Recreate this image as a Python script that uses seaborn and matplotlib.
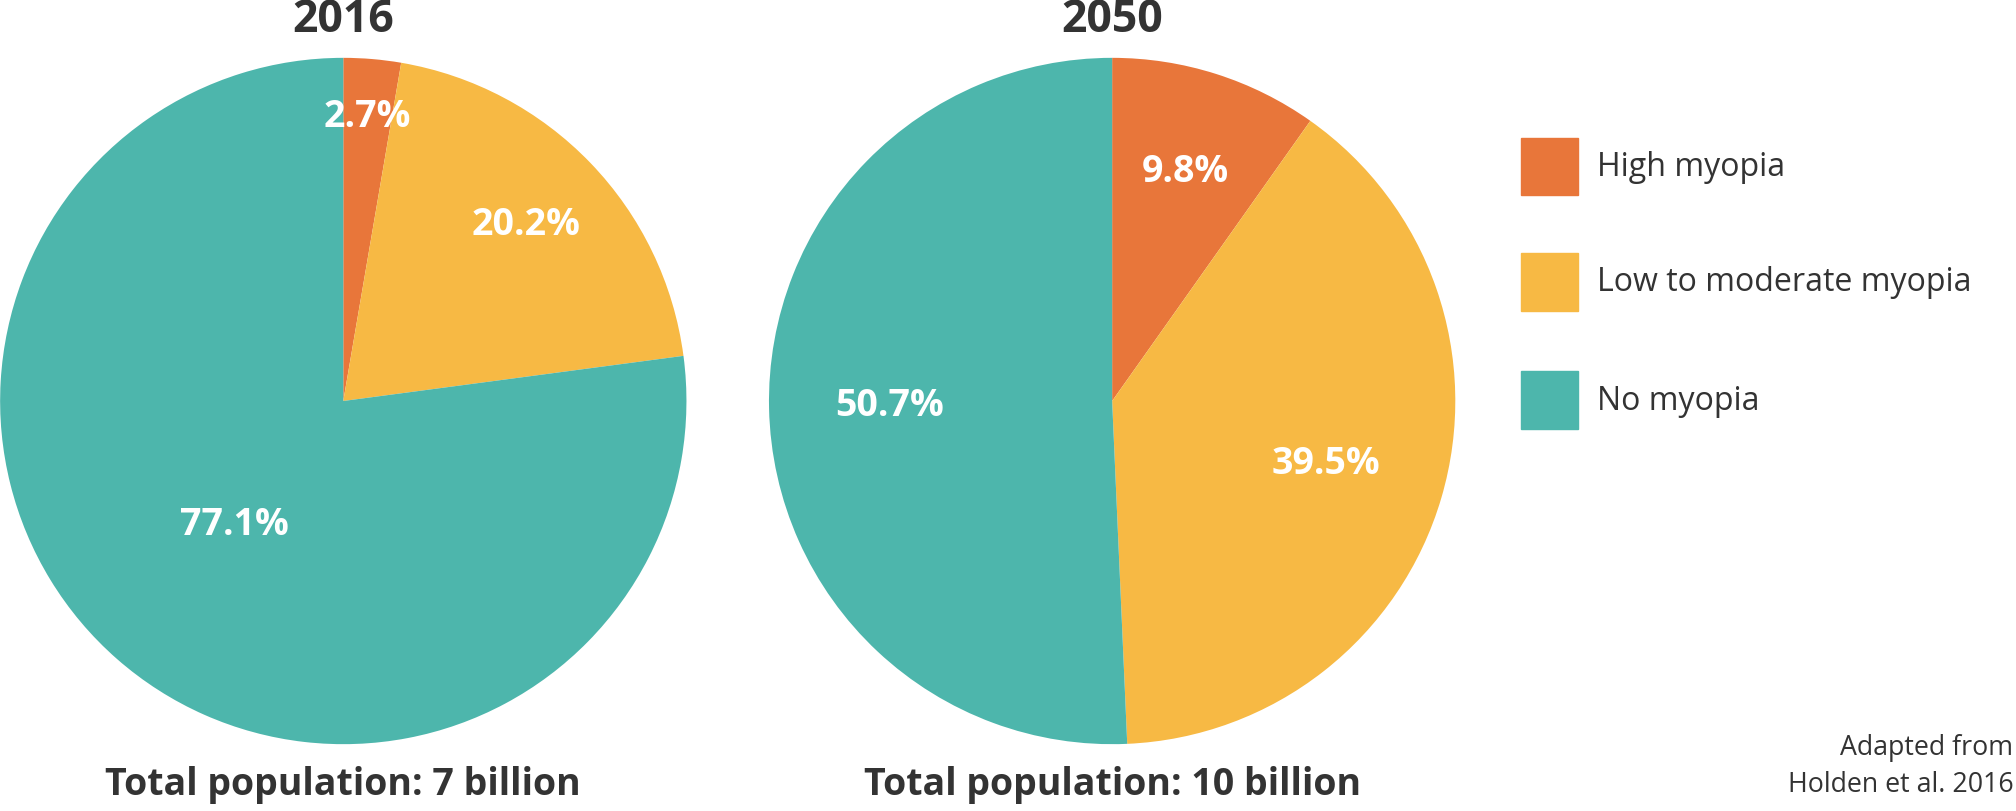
import numpy as np
import seaborn as sns
import matplotlib.pyplot as plt
from matplotlib.patches import Rectangle

categories = ["High myopia", "Low to moderate myopia", "No myopia"]
years = ["2016", "2050"]
share_2016 = [2.7, 20.2, 77.1]
share_2050 = [9.8, 39.5, 50.7]
totals = ["Total population: 7 billion", "Total population: 10 billion"]
label_radius = [[0.83, 0.74, 0.48], [0.70, 0.65, 0.65]]

colors = ["#E8763A", "#F7B944", "#4DB6AC"]

sns.set_theme(style="white")
plt.rcParams['font.family'] = ['Open Sans', 'DejaVu Sans']

# layout measured on a 1568x631 view of the reference
W, H = 1568, 631
k = 2016 / W
fig = plt.figure(figsize=(20.16, 8.11), dpi=100)

centers = [267, 865]
R = 267
for cx, year, vals, total, radii in zip(centers, years, [share_2016, share_2050], totals, label_radius):
    ax = fig.add_axes([(cx - R) / W, (H - 312 - R) / H, 2 * R / W, 2 * R / H])
    ax.pie(vals, colors=colors, startangle=90, counterclock=False,
           wedgeprops=dict(linewidth=0))
    ax.set_xlim(-1, 1)
    ax.set_ylim(-1, 1)
    cum = np.cumsum([0] + vals)
    for i, v in enumerate(vals):
        mid = 90 - 360 * (cum[i] + v / 2) / 100
        r = radii[i]
        ax.text(r * np.cos(np.radians(mid)), r * np.sin(np.radians(mid)), f"{v}%",
                ha="center", va="center", color="white", fontsize=21 * k, fontweight="bold")
    fig.text(cx / W, 1 - 16 / H, year, ha="center", va="center",
             fontsize=25 * k, fontweight="bold", color="#333333")
    fig.text(cx / W, 1 - 611 / H, total, ha="center", va="center",
             fontsize=21 * k, fontweight="bold", color="#333333")

# legend
for name, col, y in zip(categories, colors, [130, 220, 312]):
    fig.patches.append(Rectangle((1183 / W, 1 - (y + 22) / H), 44 / W, 45 / H,
                                 transform=fig.transFigure, color=col))
    fig.text(1242 / W, 1 - y / H, name, ha="left", va="center",
             fontsize=18 * k, color="#333333")

fig.text(1566 / W, 1 - 582 / H, "Adapted from", ha="right", va="center",
         fontsize=15 * k, color="#333333")
fig.text(1566 / W, 1 - 611 / H, "Holden et al. 2016", ha="right", va="center",
         fontsize=15 * k, color="#333333")

fig.savefig("out.png", dpi=100)
